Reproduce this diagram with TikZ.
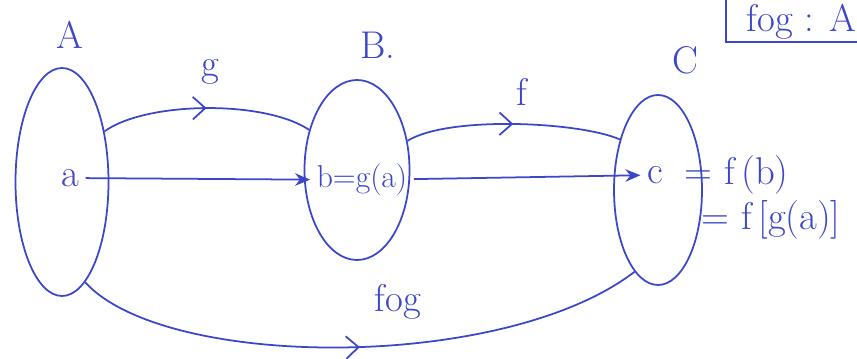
\documentclass[tikz,border=0pt]{standalone}
\usepackage{xcolor}
\usepackage{tikz}
\usetikzlibrary{arrows.meta,calc,positioning,shapes.geometric,decorations.markings}
\definecolor{Ink}{HTML}{3C46C8}
\definecolor{White}{HTML}{FFFFFF}

\begin{document}
\begin{tikzpicture}[x=0.2mm,y=-0.2mm,line width=1pt,color=Ink,
    font=\fontsize{22}{24}\selectfont,
    midarrow/.style={postaction={decorate},decoration={markings,
      mark=at position 0.5 with {\arrow{Straight Barb[length=2.5mm,width=4.5mm]}}}}]
      \useasboundingbox[fill=White] (0,0) rectangle (857,359);
      \node[draw,ellipse,minimum width=18.6mm,minimum height=45.6mm] (setA) at (62,182) {};
      \node[draw,ellipse,minimum width=21mm,minimum height=36mm] (setB) at (357,170) {};
      \node[draw,ellipse,minimum width=17.6mm,minimum height=38mm] (setC) at (658,190) {};
      \node (labA) at (70,35) {A};
      \node (labB) at (378,45) {B.};
      \node (labC) at (685,60) {C};
      \node (a) at (70,178) {a};
      \node[font=\fontsize{18}{20}\selectfont] (b) at (362,180) {b=g(a)};
      \node (c) at (655,175) {c};
      \node[anchor=west] (fb) at (678,175) {= f\,(b)};
      \node[anchor=west] (fga) at (695,220) {= f\,[g(a)]};
      \node (labg) at (210,72) {g};
      \node (labf) at (522,92) {f};
      \node (labfog) at (398,302) {fog};
      % the little box cut by the top right corner
      \node[anchor=west] (note) at (740,22) {fog : A};
      \draw (726,-10) |- (880,42);
      \foreach \a/\b in {a/b,b/c}
        \draw[-{Stealth[length=3mm,width=2.5mm]}] (\a) -- (\b);
      \draw[midarrow] (setA.50) .. controls +(42,-30) and +(-45,-30) .. (setB.140);
      \draw[midarrow] (setB.30) .. controls +(40,-25) and +(-42,-18) .. (setC.127);
      \draw[midarrow] (setA.283) .. controls +(80,88) and +(-130,100) .. (setC.254);
    \end{tikzpicture}
\end{document}
